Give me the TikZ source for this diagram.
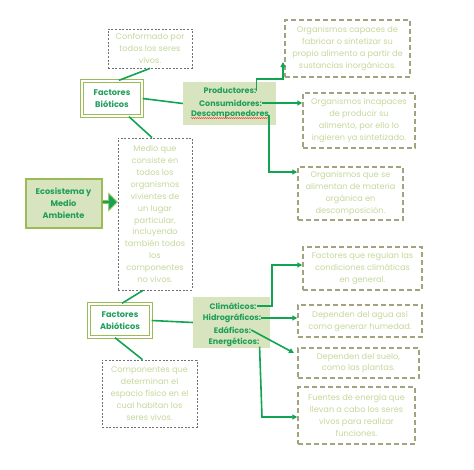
\documentclass[tikz,border=0pt]{standalone}
\usepackage{fontspec}
\setmainfont{Poppins}
\usetikzlibrary{arrows.meta,shapes.arrows,decorations.pathmorphing}
\definecolor{lgreen}{HTML}{11A452}
\definecolor{tgreen}{HTML}{1E9E5A}
\definecolor{ltext}{HTML}{C4D79B}
\definecolor{olive}{HTML}{9BBB59}
\definecolor{ofill}{HTML}{D7E4BD}
\definecolor{rdash}{HTML}{A3A37F}
\definecolor{ldash}{HTML}{707070}
\tikzset{
  lbox/.style={draw=ldash, line width=0.8pt, dash pattern=on 2pt off 1.6pt, text=ltext, align=center, inner sep=0pt, font=\fontsize{8.2}{11.9}\selectfont},
  rbox/.style={draw=rdash, line width=1.5pt, dash pattern=on 5pt off 3pt, text=ltext, align=center, inner sep=0pt, font=\fontsize{8.2}{11.9}\selectfont},
  fbox/.style={draw=olive, line width=1.4pt, double=white, double distance=1.2pt, text=tgreen, align=center, inner sep=0pt, font=\bfseries\fontsize{8.2}{11.9}\selectfont},
  catbox/.style={fill=ofill, inner sep=0pt},
  cat/.style={text=tgreen, inner sep=0pt, font=\bfseries\fontsize{8}{9}\selectfont},
  conn/.style={draw=lgreen, line width=1.6pt},
  arr/.style={conn, -{Triangle[length=5pt,width=5pt]}},
}
\begin{document}
\begin{tikzpicture}[x=1pt,y=-1pt]
\useasboundingbox (0,0) rectangle (474,469);
% left column
\node[lbox, minimum width=84, minimum height=39] (conf) at (150,48.5) {Conformado por\\todos los seres\\vivos.};
\node[fbox, minimum width=60, minimum height=35] (bio) at (112,98.5) {Factores\\Bióticos};
\node[draw=olive, line width=2pt, fill=ofill, text=tgreen, align=center, inner sep=0pt, minimum width=76, minimum height=49, font=\bfseries\fontsize{8.2}{11.9}\selectfont] (eco) at (63.5,203) {Ecosistema y\\Medio\\Ambiente};
\node[single arrow, fill=lgreen, draw=olive, line width=0.8pt, minimum height=15pt, minimum width=17pt, single arrow head extend=2pt, inner sep=0pt] (barr) at (109,202) {};
\node[lbox, minimum width=74, minimum height=152] (medio) at (155,214) {Medio que\\consiste en\\todos los\\organismos\\vivientes de\\un lugar\\particular,\\incluyendo\\también todos\\los\\componentes\\no vivos.};
\node[fbox, minimum width=62, minimum height=33] (abio) at (120,320.5) {Factores\\Abióticos};
\node[lbox, minimum width=95, minimum height=67] (comp) at (149.5,393.5) {Componentes que\\determinan el\\espacio físico en el\\cual habitan los\\seres vivos.};
% category boxes
\node[catbox, minimum width=93, minimum height=43] (prod) at (229.5,103.5) {};
\node[cat] (pr) at (230,91) {Productores:};
\node[cat] (co) at (230.5,103) {Consumidores:};
\node[cat] (de) at (230,115) {Descomponedores};
\node[catbox, minimum width=77, minimum height=51] (clim) at (231.5,322.5) {};
\node[cat] (cl) at (233,306) {Climáticos:};
\node[cat] (hi) at (232,318) {Hidrográficos:};
\node[cat] (ed) at (232.5,330) {Edáficos:};
\node[cat] (eg) at (234,342) {Energéticos:};
% right boxes
\node[rbox, minimum width=125, minimum height=57] (org1) at (347.5,48.5) {Organismos capaces de\\fabricar o sintetizar su\\propio alimento a partir de\\sustancias inorgánicas.};
\node[rbox, minimum width=112, minimum height=55] (org2) at (359,120.5) {Organismos incapaces\\de producir su\\alimento, por ello lo\\ingieren ya sintetizado.};
\node[rbox, minimum width=105, minimum height=53] (org3) at (350.5,193.5) {Organismos que se\\alimentan de materia\\orgánica en\\descomposición.};
\node[rbox, minimum width=119, minimum height=43] (fac) at (362.5,268.5) {Factores que regulan las\\condiciones climáticas\\en general.};
\node[rbox, minimum width=124, minimum height=32] (agua) at (360,321) {Dependen del agua así\\como generar humedad.};
\node[rbox, minimum width=121, minimum height=30] (suelo) at (358.5,363) {Dependen del suelo,\\como las plantas.};
\node[rbox, minimum width=117, minimum height=57] (fuentes) at (356.5,415.5) {Fuentes de energía que\\llevan a cabo los seres\\vivos para realizar\\funciones.};
% spell-check squiggle
\draw[red!80, line width=0.4pt, decorate, decoration={snake, amplitude=0.5pt, segment length=2pt}] ([yshift=1.2pt]de.south west) -- ([yshift=1.2pt]de.south east);
% connectors
\draw[conn] ([xshift=7]bio.north) -- (conf.south);
\draw[conn] (bio.east) -- (prod.west);
\draw[conn] ([xshift=17]bio.south) -- ([xshift=-3]medio.north);
\draw[conn] ([xshift=-12]medio.south) -- ([xshift=2]abio.north);
\draw[conn] (abio.east) -- (clim.west);
\draw[conn] ([xshift=-5]abio.south) -- ([xshift=-7]comp.north);
% arrows from productores box
\coordinate (k1) at (283,79);
\coordinate (k1t) at (283,62);
\draw[arr] (pr.east) |- (k1) -- (k1t);
\draw[arr] (co.east) -- (org2.west |- co.east);
\coordinate (k3) at (org3.west |- 0,172);
\draw[arr] (de.east) |- (k3);
% arrows from climaticos box
\coordinate (c1) at (272,265);
\draw[arr] (cl.east) -| (c1) -- (fac.west |- c1);
\draw[arr] (hi.east) -- (agua.west |- hi.east);
\coordinate (e1) at (294,353);
\draw[arr] (ed.east) -- (e1);
\coordinate (g1) at (262,417);
\draw[arr] (eg.south east) -- (g1) -- (fuentes.west |- g1);
\end{tikzpicture}
\end{document}
